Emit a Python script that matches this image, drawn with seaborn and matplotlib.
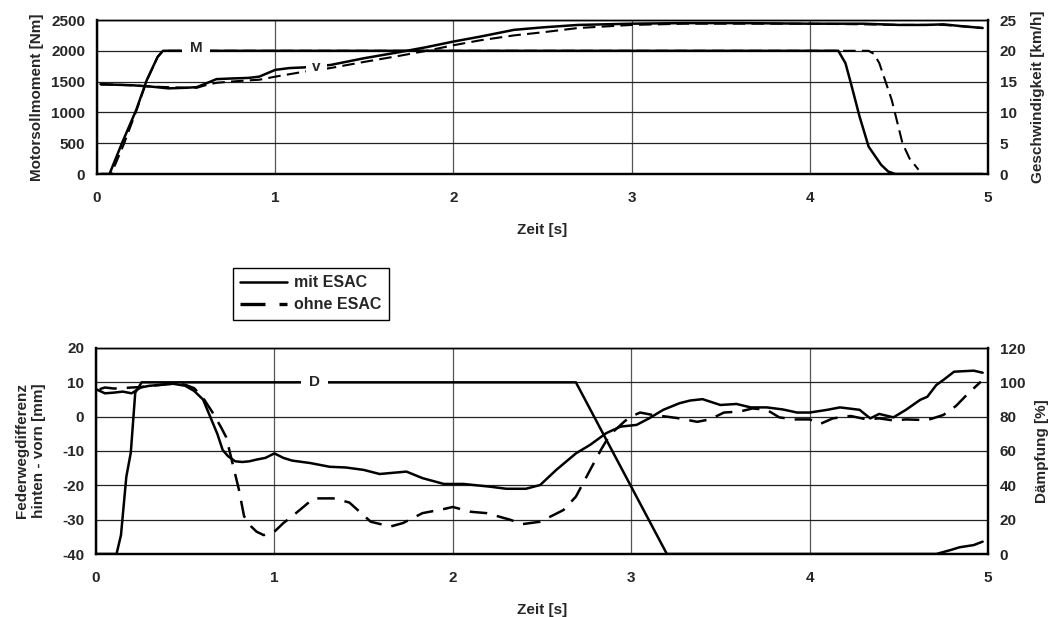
import numpy as np
import pandas as pd
import matplotlib
matplotlib.use("Agg")
import matplotlib.pyplot as plt
import seaborn as sns
from matplotlib.lines import Line2D

# ---------------- data: top chart ----------------
t_M_mit = [0.02, 0.07, 0.14, 0.22, 0.28, 0.34, 0.37, 4.16, 4.20, 4.23, 4.28, 4.33, 4.40, 4.44, 4.48, 4.97]
M_mit = [0, 0, 500, 1040, 1530, 1900, 2000, 2000, 1800, 1480, 925, 445, 150, 40, 0, 0]

t_M_ohne = [0.02, 0.08, 0.15, 0.22, 0.28, 0.34, 0.37, 4.33, 4.36, 4.39, 4.46, 4.52, 4.56, 4.61]
M_ohne = [0, 0, 480, 1020, 1520, 1900, 2000, 2000, 1950, 1800, 1200, 500, 250, 70]

t_v = [0.02, 0.1, 0.2, 0.3, 0.4, 0.5, 0.56, 0.62, 0.67, 0.75, 0.85, 0.91, 1.0, 1.08,
       1.16, 1.31, 1.5, 1.7, 1.85, 2.0, 2.15, 2.34, 2.5, 2.7, 3.0, 3.3, 3.6, 4.0,
       4.3, 4.5, 4.65, 4.75, 4.85, 4.97]
v_mit = [14.6, 14.5, 14.4, 14.2, 13.9, 14.0, 14.1, 14.8, 15.4, 15.5, 15.6, 15.8, 16.9, 17.2,
         17.3, 17.7, 18.8, 19.8, 20.6, 21.5, 22.3, 23.4, 23.8, 24.2, 24.4, 24.5, 24.5, 24.4,
         24.4, 24.2, 24.2, 24.3, 24.0, 23.7]
v_ohne = [14.5, 14.5, 14.4, 14.2, 14.1, 14.0, 14.0, 14.5, 14.8, 15.0, 15.2, 15.3, 15.8, 16.2,
          16.6, 17.2, 18.2, 19.2, 20.0, 20.9, 21.7, 22.5, 23.0, 23.7, 24.2, 24.4, 24.4, 24.4,
          24.3, 24.2, 24.2, 24.2, 24.0, 23.7]

# ---------------- data: bottom chart ----------------
t_f_mit = [0, 0.05, 0.1, 0.15, 0.2, 0.25, 0.3, 0.35, 0.43, 0.5, 0.55, 0.6, 0.64, 0.68, 0.71,
           0.74, 0.78, 0.82, 0.86, 0.9, 0.95, 1.0, 1.05, 1.1, 1.2, 1.31, 1.4, 1.5, 1.59, 1.74,
           1.83, 1.95, 2.06, 2.21, 2.30, 2.41, 2.49, 2.58, 2.69, 2.77, 2.86, 2.94, 3.03, 3.1,
           3.18, 3.27, 3.33, 3.40, 3.5, 3.59, 3.67, 3.76, 3.85, 3.93, 4.0, 4.10, 4.17, 4.28,
           4.34, 4.39, 4.47, 4.54, 4.62, 4.66, 4.71, 4.75, 4.81, 4.92, 4.97]
f_mit = [8, 6.8, 7, 7.3, 6.8, 8.5, 9, 9.2, 9.6, 9, 7.5, 5, 0, -5, -9.7,
         -11.5, -13, -13.2, -13, -12.5, -12, -10.7, -12, -12.8, -13.5, -14.6, -14.8, -15.5, -16.7, -16,
         -17.9, -19.6, -19.6, -20.4, -21, -21, -19.9, -15.5, -10.7, -8.2, -4.8, -2.9, -2.4, -0.5,
         2, 3.9, 4.7, 5.1, 3.4, 3.7, 2.7, 2.7, 2.1, 1.2, 1.2, 2.0, 2.7, 2.0,
         -0.5, 0.8, -0.2, 2.0, 4.9, 5.8, 9.2, 10.7, 13.1, 13.4, 12.8]

t_f_ohne = [0.02, 0.05, 0.1, 0.15, 0.2, 0.25, 0.3, 0.35, 0.4, 0.45, 0.5, 0.55, 0.6, 0.65, 0.7,
            0.73, 0.77, 0.8, 0.83, 0.87, 0.9, 0.94, 1.0, 1.05, 1.1, 1.22, 1.33, 1.42, 1.54, 1.65,
            1.72, 1.83, 1.95, 2.0, 2.1, 2.19, 2.32, 2.39, 2.49, 2.62, 2.69, 2.77, 2.83, 2.88,
            2.96, 2.99, 3.05, 3.12, 3.2, 3.27, 3.37, 3.44, 3.52, 3.61, 3.68, 3.76, 3.83, 3.91,
            4.0, 4.06, 4.13, 4.23, 4.32, 4.39, 4.47, 4.54, 4.66, 4.75, 4.82, 4.88, 4.96]
f_ohne = [8, 8.5, 8.2, 8.3, 8.5, 8.6, 9, 9.2, 9.5, 9.6, 9.3, 8.3, 5.5, 1.5, -3,
          -6, -14.6, -21, -29, -32, -33.5, -34.5, -33.5, -31, -29, -23.8, -23.8, -25, -30.6, -32,
          -31, -28.1, -26.9, -26.3, -27.7, -28.1, -30, -31.3, -30.6, -27.2, -23.3, -15.5, -9.7, -5.3,
          -1.5, -0.2, 1.2, 0.5, 0, -0.5, -1.5, -0.8, 1.2, 1.5, 2.4, 2.0, -0.2, -0.8,
          -0.8, -2.1, -0.5, 0.2, -0.8, -0.5, -1.1, -0.8, -1.0, 0.5, 3.1, 6.3, 10.2]

t_D = [0, 0.115, 0.14, 0.17, 0.195, 0.22, 0.256, 2.69, 3.2, 4.71, 4.79, 4.84, 4.92, 4.97]
D = [0, 0, 11, 45, 59, 94, 100, 100, 0, 0, 2.3, 3.9, 5.2, 7.2]

x_ticks = [0, 1, 2, 3, 4, 5]
top_left_ticks = [0, 500, 1000, 1500, 2000, 2500]
top_right_ticks = [0, 5, 10, 15, 20, 25]
bot_left_ticks = [-40, -30, -20, -10, 0, 10, 20]
bot_right_ticks = [0, 20, 40, 60, 80, 100, 120]

# ---------------- style ----------------
sns.set_style("white")
plt.rcParams['font.family'] = ['Liberation Sans', 'DejaVu Sans']
plt.rcParams['font.weight'] = 'bold'
plt.rcParams['axes.labelweight'] = 'bold'
plt.rcParams['axes.unicode_minus'] = False
FS = 11

fig = plt.figure(figsize=(10.52, 6.17), dpi=100)
W, H = 1052, 617
ax_top = fig.add_axes([97 / W, 1 - 174 / H, (988 - 97) / W, (174 - 20) / H])
ax_bot = fig.add_axes([96 / W, 1 - 554 / H, (988 - 96) / W, (554 - 348) / H])


def style_axes(ax, ax2, lticks, rticks, ylabel_l, ylabel_r):
    ax.set_xlim(0, 5)
    ax.set_xticks(x_ticks)
    ax.set_ylim(lticks[0], lticks[-1])
    ax.set_yticks(lticks)
    ax2.set_ylim(rticks[0], rticks[-1])
    ax2.set_yticks(rticks)
    ax.grid(True, axis='y', color='#222222', lw=0.9)
    ax.grid(True, axis='x', color='#555555', lw=0.9)
    ax2.grid(False)
    ax.tick_params(axis='both', length=0, labelsize=FS)
    ax.tick_params(axis='x', pad=12)
    ax.tick_params(axis='y', pad=8.5)
    ax2.tick_params(axis='y', length=0, labelsize=FS, pad=8.5)
    for a in (ax, ax2):
        for s in a.spines.values():
            s.set_color('black')
            s.set_linewidth(1.0)
        a.spines['left'].set_linewidth(1.6)
        a.spines['right'].set_linewidth(1.6)
        a.spines['bottom'].set_linewidth(1.6)
        for lab in a.get_yticklabels() + a.get_xticklabels():
            lab.set_fontweight('bold')
    ax.set_xlabel('Zeit [s]', fontsize=FS, fontweight='bold', labelpad=13)
    ax.set_ylabel(ylabel_l, fontsize=FS, fontweight='bold', linespacing=1.3)
    ax2.set_ylabel(ylabel_r, fontsize=FS, fontweight='bold')
    ax2.set_xlabel('')


# ---------------- top chart ----------------
ax_top2 = ax_top.twinx()
sns.lineplot(x=t_M_mit, y=M_mit, ax=ax_top, color='black', lw=1.8, errorbar=None)
sns.lineplot(x=t_M_ohne, y=M_ohne, ax=ax_top, color='black', lw=1.5, errorbar=None,
             linestyle=(0, (6, 3)))
sns.lineplot(x=t_v, y=v_mit, ax=ax_top2, color='black', lw=1.8, errorbar=None)
sns.lineplot(x=t_v, y=v_ohne, ax=ax_top2, color='black', lw=1.5, errorbar=None,
             linestyle=(0, (6, 3)))
style_axes(ax_top, ax_top2, top_left_ticks, top_right_ticks,
           'Motorsollmoment [Nm]', 'Geschwindigkeit [km/h]')
ax_top.yaxis.set_label_coords((44 - 97) / 891, 0.5)
ax_top2.yaxis.set_label_coords((1031 - 97) / 891, 0.5)
ax_top2.set_zorder(ax_top.get_zorder() + 1)
ax_top2.patch.set_visible(False)
ax_top2.text(0.555, 20.4, 'M', ha='center', va='center', fontsize=FS, fontweight='bold',
             bbox=dict(facecolor='white', edgecolor='none', boxstyle='square,pad=0.5'), zorder=10)
ax_top2.text(1.23, 17.3, 'v', ha='center', va='center', fontsize=FS, fontweight='bold',
             bbox=dict(facecolor='white', edgecolor='none', boxstyle='square,pad=0.4'), zorder=10)

# ---------------- bottom chart ----------------
ax_bot2 = ax_bot.twinx()
sns.lineplot(x=t_f_mit, y=f_mit, ax=ax_bot, color='black', lw=1.8, errorbar=None)
sns.lineplot(x=t_f_ohne, y=f_ohne, ax=ax_bot, color='black', lw=1.8, errorbar=None,
             linestyle=(0, (7, 4)))
sns.lineplot(x=t_D, y=D, ax=ax_bot2, color='black', lw=1.8, errorbar=None)
style_axes(ax_bot, ax_bot2, bot_left_ticks, bot_right_ticks,
           'Federwegdifferenz\nhinten - vorn [mm]', 'Dämpfung [%]')
ax_bot.yaxis.set_label_coords((46 - 96) / 892, 0.5)
ax_bot2.yaxis.set_label_coords((1035 - 96) / 892, 0.5)
ax_bot2.set_zorder(ax_bot.get_zorder() + 1)
ax_bot2.patch.set_visible(False)
ax_bot2.text(1.225, 100, 'D', ha='center', va='center', fontsize=FS, fontweight='bold',
             bbox=dict(facecolor='white', edgecolor='none', boxstyle='square,pad=0.55'), zorder=10)

# ---------------- legend ----------------
handles = [Line2D([], [], color='black', lw=1.8),
           Line2D([], [], color='black', lw=2.4, linestyle=(0, (7.5, 4.2)))]
leg = fig.legend(handles, ['mit ESAC', 'ohne ESAC'], loc='upper left',
                 bbox_to_anchor=(233 / W, 1 - 268 / H), borderaxespad=0,
                 fancybox=False, edgecolor='black', framealpha=1,
                 handlelength=2.9, prop={'weight': 'bold', 'size': 11.5},
                 borderpad=0.45, labelspacing=0.45, handletextpad=0.5)
leg.get_frame().set_linewidth(1.0)

fig.savefig('out.png', dpi=100, facecolor='white')
